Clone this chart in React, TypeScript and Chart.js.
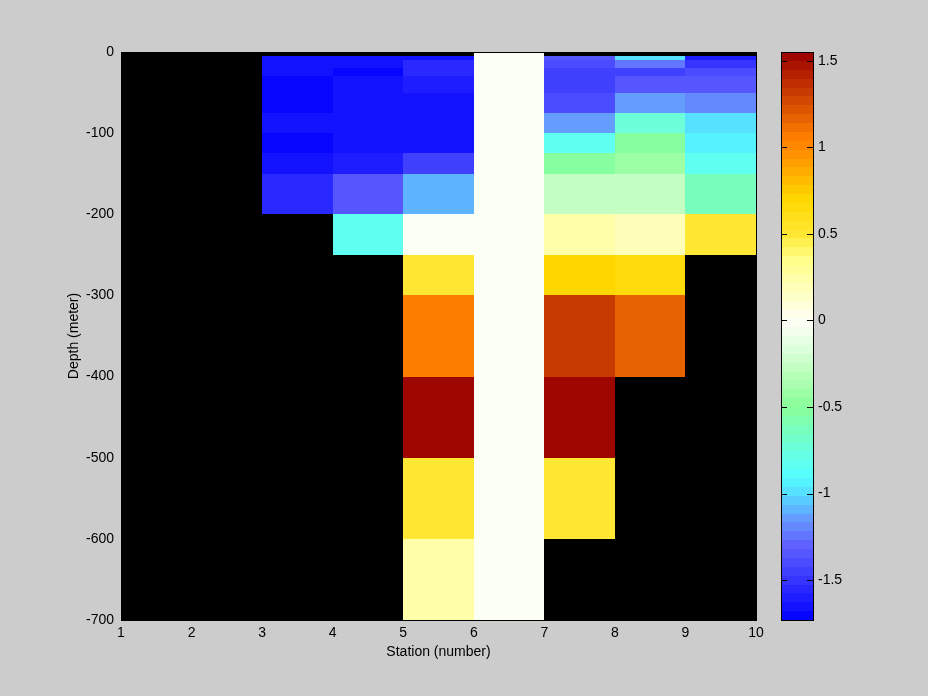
import React, { useEffect, useRef } from "react";
import { Chart, registerables } from "chart.js";

Chart.register(...registerables);

// ---- data ----
const stations = [1, 2, 3, 4, 5, 6, 7, 8, 9, 10];
const depthEdges = [0, 5, 10, 20, 30, 50, 75, 100, 125, 150, 200, 250, 300, 400, 500, 600, 700];
const xTickValues = [1, 2, 3, 4, 5, 6, 7, 8, 9, 10];
const yTickValues = [0, -100, -200, -300, -400, -500, -600, -700];
const cbTickValues = [-1.5, -1, -0.5, 0, 0.5, 1, 1.5];
const cbMin = -1.73;
const cbMax = 1.55;
const levels = 64;

// values per station interval, one per depth bin (null = no data)
const s1to2 = [null, null, null, null, null, null, null, null, null, null, null, null, null, null, null, null];
const s2to3 = [null, null, null, null, null, null, null, null, null, null, null, null, null, null, null, null];
const s3to4 = [null, -1.66, -1.66, -1.66, -1.71, -1.71, -1.64, -1.71, -1.66, -1.55, null, null, null, null, null, null];
const s4to5 = [null, -1.66, -1.66, -1.71, -1.66, -1.64, -1.66, -1.66, -1.6, -1.35, -0.84, null, null, null, null, null];
const s5to6 = [null, -1.66, -1.55, -1.55, -1.6, -1.64, -1.66, -1.64, -1.47, -1.09, -0.03, 0.5, 1.05, 1.54, 0.5, 0.26];
const s6to7 = [0, 0, 0, 0, 0, 0, 0, 0, 0, 0, 0, 0, 0, 0, 0, 0];
const s7to8 = [null, -1.32, -1.42, -1.47, -1.47, -1.42, -1.12, -0.84, -0.55, -0.27, 0.26, 0.73, 1.3, 1.54, 0.5, null];
const s8to9 = [null, -1.0, -1.24, -1.47, -1.36, -1.12, -0.72, -0.55, -0.42, -0.27, 0.18, 0.66, 1.17, null, null, null];
const s9to10 = [null, -1.6, -1.49, -1.42, -1.36, -1.2, -1.0, -0.92, -0.84, -0.62, 0.5, null, null, null, null, null];
const columns = [s1to2, s2to3, s3to4, s4to5, s5to6, s6to7, s7to8, s8to9, s9to10];

// colormap stops
const cmapStops = [-1.73, -1.45, -1.3, -1.15, -1.0, -0.9, -0.75, -0.5, -0.3, -0.15, 0, 0.35, 0.5, 0.7, 0.85, 1.0, 1.05, 1.55];
const cmapHex = [
  "#0000FF", "#4040FF", "#6060FF", "#6699FF", "#55DDFF", "#55FFFF", "#6BFFE0", "#88FF99",
  "#BBFFBB", "#E0FFE0", "#FFFFF5", "#FFFF88", "#FFE733", "#FFD700", "#FFB000", "#FF8800",
  "#FF8000", "#990000",
];

function hexToRgb(h: string): number[] {
  const n = parseInt(h.slice(1), 16);
  return [(n >> 16) & 255, (n >> 8) & 255, n & 255];
}
const cmapRgb = cmapHex.map(hexToRgb);

function cmap(v: number): string {
  if (v <= cmapStops[0]) return cmapHex[0];
  for (let i = 1; i < cmapStops.length; i++) {
    if (v <= cmapStops[i]) {
      const t = (v - cmapStops[i - 1]) / (cmapStops[i] - cmapStops[i - 1]);
      const a = cmapRgb[i - 1];
      const b = cmapRgb[i];
      const c = a.map((ch, k) => Math.round(ch + (b[k] - ch) * t));
      return `rgb(${c[0]},${c[1]},${c[2]})`;
    }
  }
  return cmapHex[cmapHex.length - 1];
}

function levelIndex(v: number): number {
  let k = Math.floor(((v - cbMin) / (cbMax - cbMin)) * levels);
  if (k < 0) k = 0;
  if (k > levels - 1) k = levels - 1;
  return k;
}
function levelColor(k: number): string {
  const step = (cbMax - cbMin) / levels;
  return cmap(cbMin + (k + 0.5) * step);
}

const heatmapPlugin = {
  id: "heatmap",
  beforeDraw(chart: any) {
    const { ctx, width, height } = chart;
    ctx.save();
    ctx.fillStyle = "#cccccc";
    ctx.fillRect(0, 0, width, height);
    ctx.restore();
  },
  beforeDatasetsDraw(chart: any) {
    const { ctx, chartArea: a, scales } = chart;
    const x = scales.x;
    const y = scales.y;
    ctx.save();
    ctx.fillStyle = "#000000";
    ctx.fillRect(a.left, a.top, a.right - a.left, a.bottom - a.top);
    columns.forEach((col, i) => {
      const x0 = Math.round(x.getPixelForValue(stations[i]));
      const x1 = Math.round(x.getPixelForValue(stations[i + 1]));
      col.forEach((v, j) => {
        if (v === null) return;
        const y0 = Math.round(y.getPixelForValue(-depthEdges[j]));
        const y1 = Math.round(y.getPixelForValue(-depthEdges[j + 1]));
        ctx.fillStyle = levelColor(levelIndex(v));
        ctx.fillRect(x0, y0, x1 - x0, y1 - y0);
      });
    });
    ctx.strokeStyle = "#000000";
    ctx.lineWidth = 1;
    ctx.strokeRect(a.left + 0.5, a.top + 0.5, a.right - a.left, a.bottom - a.top);
    ctx.restore();
  },
  afterDraw(chart: any) {
    const { ctx, chartArea: a, scales } = chart;
    const cb = scales.cb;
    const xl = Math.round(a.right + 25);
    const xr = Math.round(a.right + 57);
    const step = (cbMax - cbMin) / levels;
    ctx.save();
    for (let k = 0; k < levels; k++) {
      const lo = cbMin + k * step;
      const hi = lo + step;
      const p0 = Math.round(cb.getPixelForValue(hi));
      const p1 = Math.round(cb.getPixelForValue(lo));
      ctx.fillStyle = levelColor(k);
      ctx.fillRect(xl, p0, xr - xl, p1 - p0);
    }
    const top = Math.round(cb.getPixelForValue(cbMax));
    const bot = Math.round(cb.getPixelForValue(cbMin));
    ctx.strokeStyle = "#000000";
    ctx.lineWidth = 1;
    ctx.strokeRect(xl + 0.5, top + 0.5, xr - xl, bot - top);
    ctx.beginPath();
    cbTickValues.forEach((t) => {
      const py = Math.round(cb.getPixelForValue(t)) + 0.5;
      ctx.moveTo(xl, py);
      ctx.lineTo(xl + 6, py);
      ctx.moveTo(xr - 6, py);
      ctx.lineTo(xr + 1, py);
    });
    ctx.stroke();
    ctx.restore();
  },
};

export default function App() {
  const canvasRef = useRef<HTMLCanvasElement | null>(null);

  useEffect(() => {
    document.body.style.margin = "0";
    document.body.style.background = "#cccccc";
    const canvas = canvasRef.current;
    if (!canvas) return;
    Chart.defaults.font.family = "'Liberation Sans', Arial, Helvetica, sans-serif";
    Chart.defaults.font.size = 14;
    Chart.defaults.color = "#000000";

    const font = { size: 14, family: "'Liberation Sans', Arial, Helvetica, sans-serif" };

    const chart = new Chart(canvas, {
      type: "scatter",
      data: { datasets: [] },
      plugins: [heatmapPlugin],
      options: {
        animation: false,
        responsive: false,
        devicePixelRatio: 1,
        events: [],
        layout: { padding: { top: 52, left: 0, right: 0, bottom: 0 } },
        plugins: { legend: { display: false }, tooltip: { enabled: false } },
        scales: {
          x: {
            type: "linear",
            position: "bottom",
            min: 1,
            max: 10,
            grid: { display: false, drawTicks: false },
            border: { display: false },
            ticks: {
              padding: 5,
              color: "#000000",
              font,
              maxRotation: 0,
              autoSkip: false,
              callback: (v: any) => String(v),
            },
            title: {
              display: true,
              text: "Station (number)",
              color: "#000000",
              font,
              padding: { top: 0, bottom: 35 },
            },
            afterBuildTicks: (s: any) => {
              s.ticks = xTickValues.map((v) => ({ value: v }));
            },
            afterFit: (s: any) => {
              s.height = 76;
              s.paddingLeft = 0;
              s.paddingRight = 0;
            },
          },
          y: {
            type: "linear",
            position: "left",
            min: -700,
            max: 0,
            grid: { display: false, drawTicks: false },
            border: { display: false },
            ticks: {
              padding: 7,
              color: "#000000",
              font,
              autoSkip: false,
              callback: (v: any) => String(v),
            },
            title: {
              display: true,
              text: "Depth (meter)",
              color: "#000000",
              font,
              padding: { top: 66, bottom: 0 },
            },
            afterBuildTicks: (s: any) => {
              s.ticks = yTickValues.map((v) => ({ value: v }));
            },
            afterFit: (s: any) => {
              s.width = 121;
              s.paddingTop = 0;
              s.paddingBottom = 0;
            },
          },
          cb: {
            type: "linear",
            position: "right",
            min: cbMin,
            max: cbMax,
            grid: { display: false, drawTicks: false },
            border: { display: false },
            ticks: {
              padding: 62,
              color: "#000000",
              font,
              autoSkip: false,
              callback: (v: any) => String(v),
            },
            afterBuildTicks: (s: any) => {
              s.ticks = cbTickValues.map((v) => ({ value: v }));
            },
            afterFit: (s: any) => {
              s.width = 172;
              s.paddingTop = 0;
              s.paddingBottom = 0;
            },
          },
        },
      } as any,
    });
    return () => {
      chart.destroy();
    };
  }, []);

  return (
    <div style={{ position: "absolute", left: 0, top: 0, width: 928, height: 696, background: "#cccccc" }}>
      <canvas ref={canvasRef} width={928} height={696} style={{ display: "block", width: 928, height: 696 }} />
    </div>
  );
}
